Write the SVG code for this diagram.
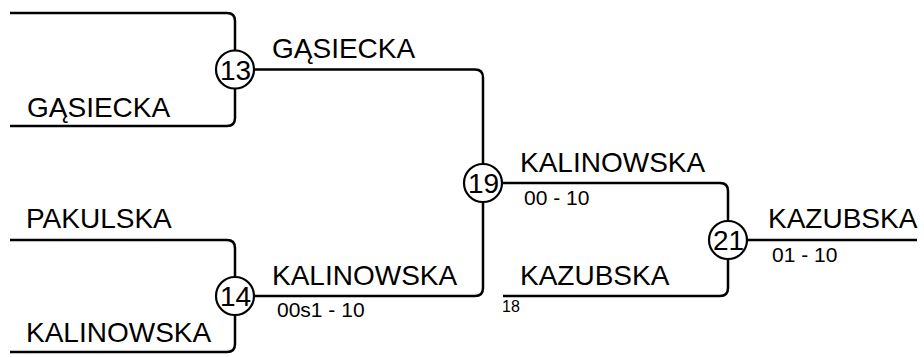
<svg xmlns="http://www.w3.org/2000/svg" width="924" height="357" viewBox="0 0 924 357">
<style>
.ln{fill:none;stroke:#000;stroke-width:2.5}
.nd circle{fill:#fff;stroke:#000;stroke-width:2.2}
.num{font-family:"Liberation Sans",Arial,sans-serif;font-size:28px;text-anchor:middle;fill:#000}
.lbl{font-family:"Liberation Sans",Arial,sans-serif;font-size:28px;fill:#000}
.sc{font-family:"Liberation Sans",Arial,sans-serif;font-size:21px;fill:#000}
.sm{font-family:"Liberation Sans",Arial,sans-serif;font-size:16px;fill:#000}
</style>
<rect width="924" height="357" fill="#fff"/>
<g id="connectors">
<path class="ln" d="M10,13 H227 Q235,13 235,21 V50"/>
<path class="ln" d="M10,126 H227 Q235,126 235,118 V89"/>
<path class="ln" d="M10,240 H227 Q235,240 235,248 V277"/>
<path class="ln" d="M10,352 H227 Q235,352 235,344 V315"/>
<path class="ln" d="M254,69.5 H475 Q483,69.5 483,77.5 V164"/>
<path class="ln" d="M254,296 H475 Q483,296 483,288 V202"/>
<path class="ln" d="M502,183 H720 Q728,183 728,191 V221"/>
<path class="ln" d="M503,296 H720 Q728,296 728,288 V259"/>
<path class="ln" d="M747,240 H917"/>
</g>
<g id="labels">
<text class="lbl" x="27" y="117">GĄSIECKA</text>
<text class="lbl" x="26" y="228">PAKULSKA</text>
<text class="lbl" x="26" y="342">KALINOWSKA</text>
<text class="lbl" x="272" y="58">GĄSIECKA</text>
<text class="lbl" x="272" y="285">KALINOWSKA</text>
<text class="sc" x="277" y="317">00s1 - 10</text>
<text class="lbl" x="520" y="172">KALINOWSKA</text>
<text class="sc" x="524" y="205">00 - 10</text>
<text class="lbl" x="520" y="285">KAZUBSKA</text>
<text class="sm" x="502" y="312">18</text>
<text class="lbl" x="768" y="228">KAZUBSKA</text>
<text class="sc" x="772" y="262">01 - 10</text>
</g>
<g id="n13" class="nd"><circle cx="235" cy="69.5" r="19"/><text class="num" x="235.5" y="79.5">13</text></g>
<g id="n14" class="nd"><circle cx="235" cy="296" r="19"/><text class="num" x="235.5" y="306">14</text></g>
<g id="n19" class="nd"><circle cx="483" cy="183" r="19"/><text class="num" x="483.5" y="193">19</text></g>
<g id="n21" class="nd"><circle cx="728" cy="240" r="19"/><text class="num" x="728.5" y="250">21</text></g>
</svg>
